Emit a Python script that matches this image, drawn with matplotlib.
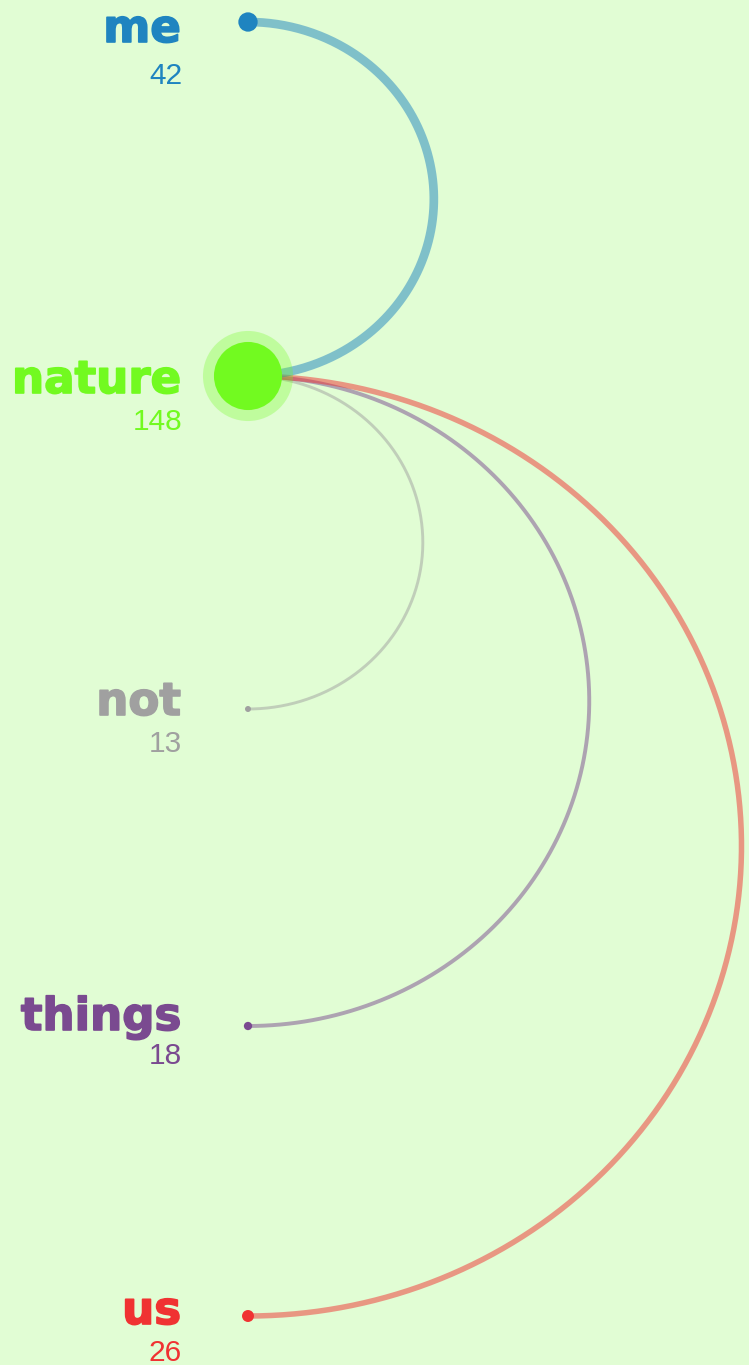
import numpy as np
import matplotlib
matplotlib.use("Agg")
import matplotlib.pyplot as plt
from matplotlib.patches import Circle
import matplotlib.patheffects as pe

# ---- data ----
words = ["me", "nature", "not", "things", "us"]
counts = [42, 148, 13, 18, 26]
node_y = [22, 376, 709, 1026, 1316]          # vertical position of each node (px units)
colors = ["#1f84c0", "#72fa20", "#a0a0a0", "#7a4a90", "#f03232"]
links = [("nature", "not"), ("nature", "things"), ("nature", "us"), ("me", "nature")]
link_weight = [13, 18, 26, 42]
focus = "nature"

# ---- layout / style ----
W, H = 749, 1365
BG = "#e1fdd4"
node_x = 248
label_x = 181
label_dy = [20, 17, 6, 4, 8]
number_dy = [62, 54, 43, 38, 45]
stretch = 1.05
PT = 0.72  # points per pixel at dpi 100

fig = plt.figure(figsize=(W / 100, H / 100), dpi=100, facecolor=BG)
ax = fig.add_axes([0, 0, 1, 1])
ax.set_facecolor(BG)
ax.set_xlim(0, W)
ax.set_ylim(H, 0)
ax.axis("off")

idx = {w: i for i, w in enumerate(words)}

# arcs
for (a, b), wgt in zip(links, link_weight):
    ya, yb = node_y[idx[a]], node_y[idx[b]]
    src = b if a == focus else a
    cy = (ya + yb) / 2
    ry = abs(yb - ya) / 2
    rx = ry * stretch
    t = np.linspace(-np.pi / 2, np.pi / 2, 400)
    xs = node_x + rx * np.cos(t)
    ys = cy + ry * np.sin(t)
    ax.plot(xs, ys, color=colors[idx[src]], alpha=0.5,
            lw=(0.3 + 0.2 * wgt) * PT, solid_capstyle="butt", zorder=2)

# nodes
for i, w in enumerate(words):
    r = counts[i] * 0.23
    if w == focus:
        ax.add_patch(Circle((node_x, node_y[i]), r + 11, color=colors[i],
                            alpha=0.3, lw=0, zorder=3))
    ax.add_patch(Circle((node_x, node_y[i]), r, color=colors[i], lw=0, zorder=4))

    ax.text(label_x, node_y[i] + label_dy[i], w, ha="right", va="baseline",
            fontsize=32.5, fontweight="bold", family="DejaVu Sans",
            color=colors[i], zorder=5,
            path_effects=[pe.withStroke(linewidth=1.2, foreground=colors[i])])
    ax.text(label_x + 1, node_y[i] + number_dy[i], str(counts[i]), ha="right",
            va="baseline", fontsize=21.5, family="Liberation Sans",
            color=colors[i], zorder=5)

fig.savefig("out.png", dpi=100, facecolor=BG)
